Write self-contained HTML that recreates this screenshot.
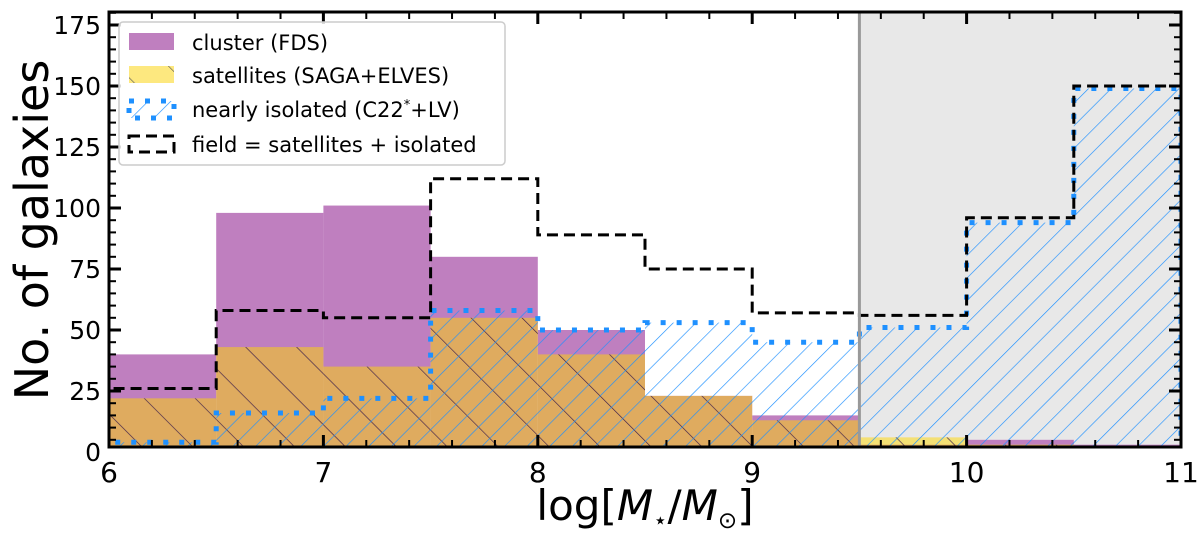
<!DOCTYPE html>
<html><head><meta charset="utf-8"><style>
body{margin:0;background:#fff;}
svg{display:block;font-family:"DejaVu Sans","Liberation Sans",sans-serif;}
</style></head><body>
<svg id="chart" width="1200" height="538" viewBox="0 0 1200 538" xmlns="http://www.w3.org/2000/svg">
<defs>
<pattern id="hatchSat" patternUnits="userSpaceOnUse" width="36" height="36" patternTransform="rotate(-45)">
<line x1="0" y1="0" x2="0" y2="36" stroke="#3d1f4a" stroke-width="1.3"/></pattern>
<pattern id="hatchIso" patternUnits="userSpaceOnUse" width="16" height="16" patternTransform="rotate(45)">
<line x1="0" y1="0" x2="0" y2="16" stroke="#1e90ff" stroke-width="1.3"/></pattern>
<clipPath id="plotClip"><rect x="109" y="12" width="1072" height="435"/></clipPath>
</defs>
<g id="plot" clip-path="url(#plotClip)"></g>
<g id="axes"></g>
</svg>
<script>
const binEdges=[6,6.5,7,7.5,8,8.5,9,9.5,10,10.5,11];
const cluster=[40,98,101,80,50,23,15,3,5,3];
const satellites=[22,43,35,55,40,23,13,6,3,2];
const isolated=[4,16,22,58,50,53,45,51,94,149];
const field=[26,58,55,112,89,75,57,56,96,150];
const xTicks=[6,7,8,9,10,11];
const yTicks=[0,25,50,75,100,125,150,175];
const cutoff=9.5;

const NS='http://www.w3.org/2000/svg';
const X0=109,X1=1181,YT=12,YB=447;
const xs=v=>X0+(v-6)*(X1-X0)/5;
const ys=v=>452-v*2.44;
const plot=document.getElementById('plot'),axes=document.getElementById('axes');
function mk(tag,attrs,parent){const e=document.createElementNS(NS,tag);for(const k in attrs)e.setAttribute(k,attrs[k]);parent.appendChild(e);return e;}

const reg=mk('rect',{x:xs(cutoff),y:YT,width:X1-xs(cutoff),height:YB-YT,fill:'#e8e8e8'},plot);



function bars(vals,fill,name){
  vals.forEach((v,i)=>{
    const r=mk('rect',{x:xs(binEdges[i]),y:ys(v),width:xs(binEdges[i+1])-xs(binEdges[i]),height:Math.max(0,ys(0)-ys(v)),fill:fill},plot);
    
    
  });
}
function stepPath(vals){
  let d='M'+xs(binEdges[0])+','+ys(0);
  vals.forEach((v,i)=>{d+=' L'+xs(binEdges[i])+','+ys(v)+' L'+xs(binEdges[i+1])+','+ys(v);});
  d+=' L'+xs(binEdges[binEdges.length-1])+','+ys(0);
  return d;
}
bars(cluster,'#bf7fbf','cluster');
bars(satellites,'rgba(255,215,0,0.5)','satellites');
bars(satellites,'url(#hatchSat)','satellites-hatch');
const isoH=mk('path',{d:stepPath(isolated)+' Z',fill:'url(#hatchIso)'},plot);


const isoL=mk('path',{d:stepPath(isolated),fill:'none',stroke:'#1e90ff','stroke-width':5,'stroke-dasharray':'5 11'},plot);


const fL=mk('path',{d:stepPath(field),fill:'none',stroke:'#000','stroke-width':3,'stroke-dasharray':'11 6'},plot);


const vl=mk('line',{x1:xs(cutoff),x2:xs(cutoff),y1:YT,y2:YB,stroke:'#999','stroke-width':3},plot);



const fr=mk('rect',{x:X0,y:YT,width:X1-X0,height:YB-YT,fill:'none',stroke:'#000','stroke-width':3},axes);


for(let k=0;k<=25;k++){const v=6+k*0.2;const x=xs(v);const maj=k%5===0;const L=maj?12:7;
  mk('line',{x1:x,x2:x,y1:YB,y2:YB-L,stroke:'#000','stroke-width':maj?3:2},axes);
  mk('line',{x1:x,x2:x,y1:YT,y2:YT+L,stroke:'#000','stroke-width':maj?3:2},axes);}
xTicks.forEach(v=>{const t=mk('text',{x:xs(v),y:482,'font-size':28,'text-anchor':'middle'},axes);t.textContent=v;
  
  });
for(let v=0;v<=180;v+=5){const y=ys(v);if(y<YT||y>YB)continue;const maj=v%25===0;const L=maj?12:7;
  mk('line',{x1:X0,x2:X0+L,y1:y,y2:y,stroke:'#000','stroke-width':maj?3:2},axes);
  mk('line',{x1:X1,x2:X1-L,y1:y,y2:y,stroke:'#000','stroke-width':maj?3:2},axes);}
yTicks.forEach(v=>{const t=mk('text',{x:101,y:ys(v)+9,'font-size':25,'text-anchor':'end'},axes);t.textContent=v;
  
  });
</script>
<svg style="position:absolute;left:0;top:0" width="1200" height="538" xmlns="http://www.w3.org/2000/svg">
<defs>
<pattern id="lhS" patternUnits="userSpaceOnUse" width="36" height="36" patternTransform="rotate(-45)"><line x1="0" y1="0" x2="0" y2="36" stroke="#555" stroke-width="1.3"/></pattern>
<pattern id="lhI" patternUnits="userSpaceOnUse" width="16" height="16" patternTransform="rotate(45)"><line x1="0" y1="0" x2="0" y2="16" stroke="#1e90ff" stroke-width="1.3"/></pattern>
</defs>
<text transform="translate(48,230) rotate(-90)" font-size="46" text-anchor="middle">No. of galaxies</text>
<text x="645" y="520" font-size="42" text-anchor="middle">log[<tspan font-style="italic">M</tspan><tspan font-size="23" dy="8">⋆</tspan><tspan dy="-8">/</tspan><tspan font-style="italic">M</tspan><tspan font-size="23" dy="8">⊙</tspan><tspan dy="-8">]</tspan></text>
<g>
<rect x="119" y="22" width="386" height="143" rx="4" fill="#fff" fill-opacity="0.85" stroke="#ccc" stroke-width="1.5"/>
<rect x="129" y="33" width="45" height="17" fill="#bf7fbf"/>
<text x="192" y="50" font-size="21">cluster (FDS)</text>
<rect x="129" y="66" width="45" height="17" fill="#fde87f"/>
<rect x="129" y="66" width="45" height="17" fill="url(#lhS)"/>
<text x="192" y="83" font-size="21">satellites (SAGA+ELVES)</text>
<rect x="129" y="101" width="45" height="17" fill="url(#lhI)"/>
<rect x="129" y="101" width="45" height="17" fill="none" stroke="#1e90ff" stroke-width="5" stroke-dasharray="5 11"/>
<text x="192" y="117" font-size="21">nearly isolated (C22<tspan font-size="13" dy="-8">*</tspan><tspan dy="8">+LV)</tspan></text>
<rect x="129" y="136" width="45" height="16" fill="none" stroke="#000" stroke-width="3" stroke-dasharray="11 6"/>
<text x="192" y="152" font-size="21">field = satellites + isolated</text>
</g>
</svg>
</body></html>
